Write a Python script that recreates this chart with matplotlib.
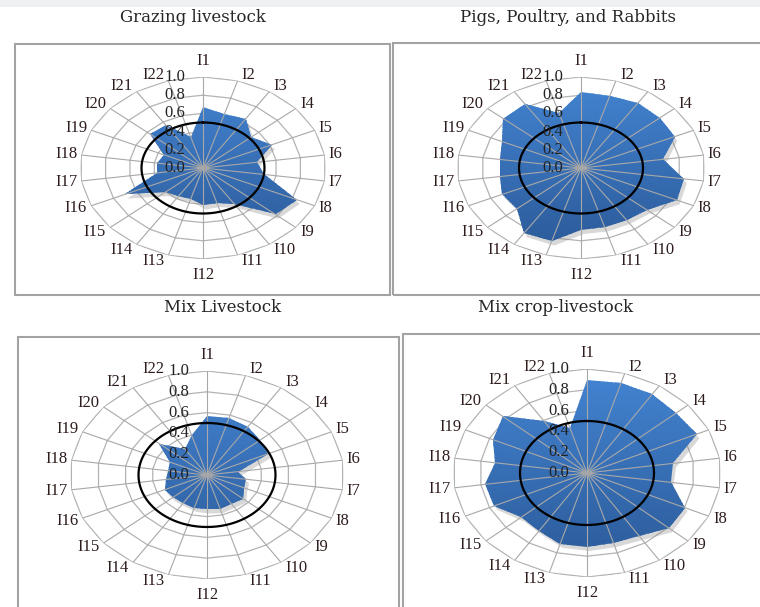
import numpy as np
import matplotlib
matplotlib.use("Agg")
import matplotlib.pyplot as plt
import matplotlib.transforms as mtransforms
from matplotlib.patches import Rectangle
from matplotlib.colors import LinearSegmentedColormap

# indicator labels and scores
indicators = [f"I{i}" for i in range(1, 23)]
r_ticks = [0.0, 0.2, 0.4, 0.6, 0.8, 1.0]
threshold = 0.5

grazing = [0.67, 0.62, 0.64, 0.52, 0.62, 0.44, 0.50, 0.84, 0.78, 0.47, 0.40,
           0.41, 0.35, 0.37, 0.40, 0.70, 0.38, 0.38, 0.35, 0.57, 0.56, 0.36]
pigs = [0.83, 0.82, 0.85, 0.84, 0.83, 0.67, 0.84, 0.85, 0.70, 0.68, 0.68,
        0.68, 0.84, 0.85, 0.68, 0.70, 0.66, 0.66, 0.70, 0.83, 0.83, 0.63]
mix_live = [0.57, 0.57, 0.55, 0.51, 0.49, 0.23, 0.29, 0.30, 0.35, 0.33, 0.34,
            0.33, 0.33, 0.32, 0.33, 0.34, 0.30, 0.29, 0.30, 0.46, 0.30, 0.40]
mix_crop = [0.89, 0.90, 0.90, 0.88, 0.90, 0.65, 0.63, 0.80, 0.81, 0.72, 0.70,
            0.71, 0.71, 0.66, 0.65, 0.76, 0.77, 0.69, 0.77, 0.83, 0.60, 0.45]

titles = ["Grazing livestock", "Pigs, Poultry, and Rabbits",
          "Mix Livestock", "Mix crop-livestock"]

W, H = 760, 607
fig = plt.figure(figsize=(W / 100, H / 100), dpi=100)
fig.patch.set_facecolor("white")

def px(x0, y0, x1, y1):
    """pixel box (top-left origin) -> figure fraction rect"""
    return [x0 / W, 1 - y1 / H, (x1 - x0) / W, (y1 - y0) / H]

# light band on top
fig.add_artist(Rectangle((0, 1 - 7 / H), 1, 7 / H, transform=fig.transFigure,
                         fc="#eff0f2", ec="none", zorder=0))

# chart frames
for (x0, y0, x1, y1) in [(15, 44, 390, 295), (393, 43, 765, 295),
                         (18, 337, 399, 612), (403, 334, 765, 612)]:
    l, b, w, h = px(x0, y0, x1, y1)
    fig.add_artist(Rectangle((l, b), w, h, transform=fig.transFigure,
                             fill=False, ec="#a3a3a3", lw=1.5, zorder=0))

title_pos = [(193, 17), (568, 17), (223, 308), (556, 308)]
for t, (x, y) in zip(titles, title_pos):
    fig.text(x / W, 1 - y / H, t, ha="center", va="center", fontsize=12,
             family="DejaVu Serif", color="#262626")

# (centre x, centre y, horizontal radius, vertical radius) in pixels
layout = [(203, 168, 123, 91), (581, 168, 124, 91),
          (207, 475, 137, 104), (587, 473, 134, 104)]

cmap = LinearSegmentedColormap.from_list("fillgrad", ["#2a5896", "#4384d2"])
n = len(indicators)
theta = np.arange(n) * 2 * np.pi / n
theta_c = np.append(theta, theta[0])
label_col = "#2e1c1c"

for vals, (cx, cy, rx, ry) in zip([grazing, pigs, mix_live, mix_crop], layout):
    ax = fig.add_axes(px(cx - rx, cy - ry, cx + rx, cy + ry), projection="polar")
    ax.set_theta_zero_location("N")
    ax.set_theta_direction(-1)
    ax.set_aspect("auto")
    ax.set_ylim(0, 1)
    ax.set_xticks([])
    ax.set_yticks([])
    ax.grid(False)
    ax.spines["polar"].set_visible(False)
    ax.patch.set_facecolor("none")

    # polygon rings
    for r in r_ticks[1:]:
        ax.plot(theta_c, [r] * (n + 1), color="#b3b3b3", lw=0.9, zorder=1)

    v = np.append(vals, vals[0])
    # soft shadow
    sh = ax.transData + mtransforms.ScaledTranslation(2 / 72, -3 / 72, fig.dpi_scale_trans)
    ax.fill(theta_c, v, color="#808080", alpha=0.3, lw=0, transform=sh, zorder=1.5)
    poly = ax.fill(theta_c, v, facecolor="none", edgecolor="none", zorder=2)[0]

    # vertical gradient clipped to the data polygon
    tg = np.linspace(0, 2 * np.pi, 181)
    rg = np.linspace(0, 1, 41)
    tm, rm = np.meshgrid((tg[:-1] + tg[1:]) / 2, (rg[:-1] + rg[1:]) / 2)
    mesh = ax.pcolormesh(tg, rg, rm * np.cos(tm), cmap=cmap, vmin=-1, vmax=1,
                         shading="flat", zorder=2)
    mesh.set_clip_path(poly)

    # spokes
    for t in theta:
        ax.plot([t, t], [0, 1], color="#a8a8a8", lw=0.8, zorder=3)

    # threshold circle
    tt = np.linspace(0, 2 * np.pi, 361)
    ax.plot(tt, [threshold] * len(tt), color="black", lw=1.6, zorder=4)

    # category labels placed just outside each spoke end
    for t, lab in zip(theta, indicators):
        s, c = np.sin(t), np.cos(t)
        if abs(s) < 0.1:
            off = (0, 8 if c > 0 else -8)
            ha, va = "center", ("bottom" if c > 0 else "top")
        else:
            off = (4 if s > 0 else -4, 6 * c)
            ha, va = ("left" if s > 0 else "right"), "center"
        ax.annotate(lab, xy=(t, 1.0), xytext=off, textcoords="offset pixels",
                    ha=ha, va=va, fontsize=12, family="Liberation Serif",
                    color=label_col, zorder=5)
    for r in r_ticks:
        ax.annotate(f"{r:.1f}", xy=(0, r), xytext=(-18, 0), textcoords="offset pixels",
                    ha="right", va="center", fontsize=12, family="Liberation Serif",
                    color="#222222", zorder=5)

fig.savefig("out.png", dpi=100)
